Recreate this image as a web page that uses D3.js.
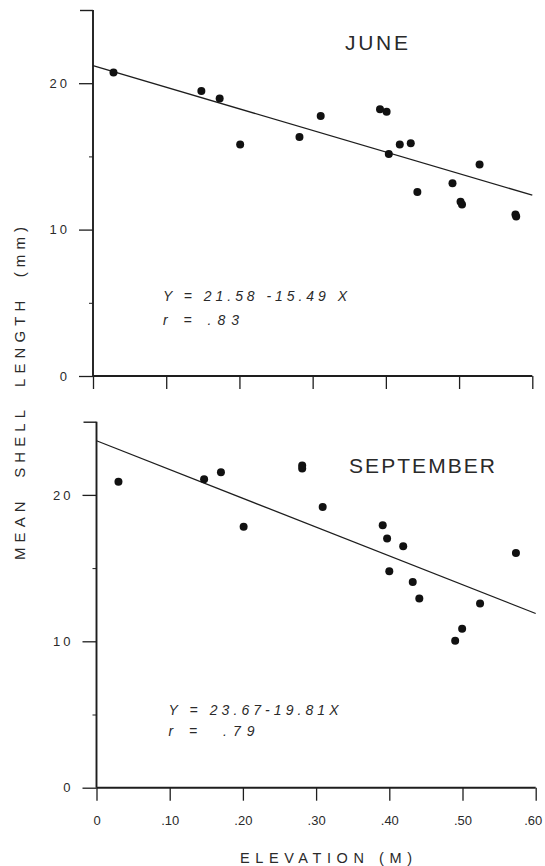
<!DOCTYPE html>
<html>
<head>
<meta charset="utf-8">
<script src="https://cdn.jsdelivr.net/npm/d3@7"></script>
<style>
  html, body { margin: 0; padding: 0; background: #fff; }
  svg { display: block; }
  text { font-family: "Liberation Sans", Arial, sans-serif; fill: #2a2a2a; }
</style>
</head>
<body>
<script>
// ---- data ----
const xTickValues = [0, 0.1, 0.2, 0.3, 0.4, 0.5, 0.6];
const xTickLabels = ["0", ".10", ".20", ".30", ".40", ".50", ".60"];
const yMajorTicks = [0, 10, 20];
const yMajorLabels = ["0", "10", "20"];
const yMinorTicks = [5, 15];
const yTopTick = [25];

const juneElev = [0.028, 0.148, 0.173, 0.201, 0.282, 0.311, 0.392, 0.401, 0.404, 0.419, 0.434, 0.443, 0.491, 0.502, 0.504, 0.528, 0.577, 0.578];
const juneLen  = [20.73, 19.47, 18.95, 15.81, 16.32, 17.76, 18.22, 18.05, 15.17, 15.81, 15.90, 12.56, 13.16, 11.90, 11.72, 14.44, 11.03, 10.89];
const juneLineX = [0, 0.6];
const juneLineY = [21.2, 12.35];

const septElev = [0.030, 0.147, 0.170, 0.201, 0.281, 0.281, 0.309, 0.391, 0.397, 0.400, 0.419, 0.432, 0.441, 0.490, 0.4995, 0.524, 0.573];
const septLen  = [20.89, 21.07, 21.54, 17.82, 22.00, 21.80, 19.18, 17.93, 17.03, 14.78, 16.50, 14.05, 12.92, 10.03, 10.85, 12.58, 16.03];
const septLineX = [0, 0.6];
const septLineY = [23.7, 11.9];

const panelTitles = ["JUNE", "SEPTEMBER"];
const equations = ["Y = 21.58 -15.49 X", "Y = 23.67-19.81X"];
const rValues = ["r = .83", "r =  .79"];
const xAxisTitle = "ELEVATION (M)";
const yAxisTitle = "MEAN SHELL LENGTH (mm)";

// ---- drawing ----
const W = 545, H = 866;
const svg = d3.select("body").append("svg").attr("width", W).attr("height", H);
const ink = "#1e1e1e";

const panels = [
  { elev: juneElev, len: juneLen, lx: juneLineX, ly: juneLineY,
    xr: [93, 532.3], yr: [376, 10], title: panelTitles[0], titleX: 345, titleY: 50, titleLen: 63,
    eq: equations[0], eqX: 163, eqY: 301, eqLen: 184, r: rValues[0], rY: 325, rLen: 76, showXLabels: false },
  { elev: septElev, len: septLen, lx: septLineX, ly: septLineY,
    xr: [96.5, 535.7], yr: [787.7, 421.7], title: panelTitles[1], titleX: 349, titleY: 473, titleLen: 146,
    eq: equations[1], eqX: 168.5, eqY: 715, eqLen: 170, r: rValues[1], rY: 736, rLen: 86, showXLabels: true }
];

panels.forEach(p => {
  const x = d3.scaleLinear().domain([0, 0.6]).range(p.xr);
  const y = d3.scaleLinear().domain([0, 25]).range(p.yr);
  const g = svg.append("g");

  // x axis
  const xAxis = d3.axisBottom(x).tickValues(xTickValues).tickSize(13)
    .tickFormat((d, i) => p.showXLabels ? xTickLabels[i] : "");
  const gx = g.append("g").attr("transform", `translate(0,${y(0)})`).call(xAxis);
  gx.select(".domain").attr("d", `M${x(0)},0H${x(0.6)}`).attr("stroke", ink).attr("stroke-width", 1.9);
  gx.selectAll(".tick line").attr("stroke", ink).attr("stroke-width", 1.3);
  gx.selectAll(".tick text").attr("y", 28).attr("font-size", 13)
    .attr("dx", (d, i) => i === xTickValues.length - 1 ? -3 : 0)
    .attr("fill", "#2a2a2a").style("font-family", "'Liberation Sans', Arial, sans-serif");

  // y axis: major ticks with labels
  const yAxis = d3.axisLeft(y).tickValues(yMajorTicks).tickSize(14)
    .tickFormat((d, i) => yMajorLabels[i]);
  const gy = g.append("g").attr("transform", `translate(${x(0)},0)`).call(yAxis);
  gy.select(".domain").attr("d", `M0,${y(0)}V${y(25)}`).attr("stroke", ink).attr("stroke-width", 1.9);
  gy.selectAll(".tick line").attr("stroke", ink).attr("stroke-width", 1.3);
  gy.selectAll(".tick text").attr("x", -23).attr("font-size", 13).attr("letter-spacing", 3)
    .attr("fill", "#2a2a2a").style("font-family", "'Liberation Sans', Arial, sans-serif");

  // minor ticks and top tick
  const gyMinor = g.append("g").attr("transform", `translate(${x(0)},0)`)
    .call(d3.axisLeft(y).tickValues(yMinorTicks).tickSize(4).tickFormat(""));
  gyMinor.select(".domain").remove();
  gyMinor.selectAll(".tick line").attr("stroke", ink).attr("stroke-width", 1);
  const gyTop = g.append("g").attr("transform", `translate(${x(0)},0)`)
    .call(d3.axisLeft(y).tickValues(yTopTick).tickSize(13).tickFormat(""));
  gyTop.select(".domain").remove();
  gyTop.selectAll(".tick line").attr("stroke", ink).attr("stroke-width", 1.4);

  // regression line
  const line = d3.line().x(d => x(d[0])).y(d => y(d[1]));
  g.append("path").datum(p.lx.map((v, i) => [v, p.ly[i]]))
    .attr("d", line).attr("fill", "none").attr("stroke", ink).attr("stroke-width", 1.3);

  // points
  g.selectAll("circle.pt").data(p.elev.map((v, i) => [v, p.len[i]])).join("circle")
    .attr("class", "pt").attr("cx", d => x(d[0])).attr("cy", d => y(d[1]))
    .attr("r", 4).attr("fill", "#111");

  // title
  g.append("text").attr("x", p.titleX).attr("y", p.titleY)
    .attr("font-size", 21).attr("textLength", p.titleLen).attr("lengthAdjust", "spacing")
    .attr("fill", "#333")
    .text(p.title);

  // equation
  g.append("text").attr("x", p.eqX).attr("y", p.eqY)
    .attr("font-size", 14).attr("font-style", "italic")
    .attr("textLength", p.eqLen).attr("lengthAdjust", "spacing")
    .style("white-space", "pre").attr("xml:space", "preserve")
    .text(p.eq);
  g.append("text").attr("x", p.eqX).attr("y", p.rY)
    .attr("font-size", 14).attr("font-style", "italic")
    .attr("textLength", p.rLen).attr("lengthAdjust", "spacing")
    .style("white-space", "pre").attr("xml:space", "preserve")
    .text(p.r);
});

// axis titles
svg.append("text").attr("x", 240).attr("y", 863)
  .attr("font-size", 14.5).attr("textLength", 172).attr("lengthAdjust", "spacing")
  .text(xAxisTitle);

svg.append("text")
  .attr("transform", "translate(25,560) rotate(-90)")
  .attr("x", 0).attr("y", 0)
  .attr("font-size", 15).attr("textLength", 333).attr("lengthAdjust", "spacing")
  .style("white-space", "pre").attr("xml:space", "preserve")
  .text(yAxisTitle.replace(/ /g, "  "));
</script>
</body>
</html>
